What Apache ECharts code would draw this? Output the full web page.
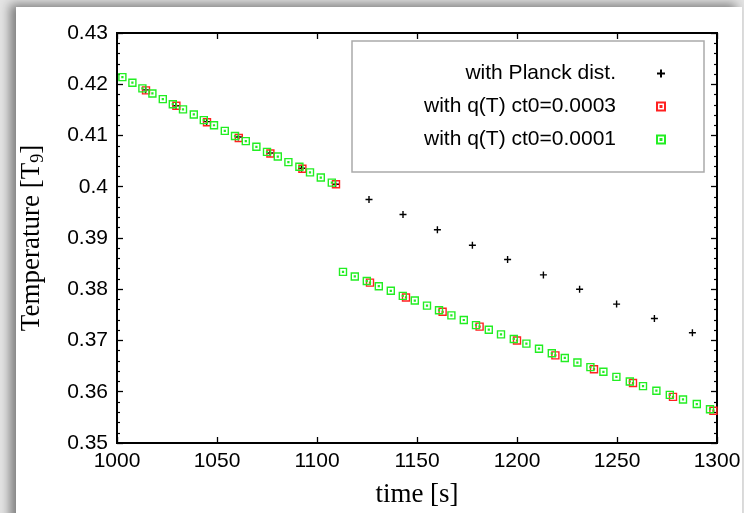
<!DOCTYPE html>
<html>
<head>
<meta charset="utf-8">
<script src="https://cdn.jsdelivr.net/npm/echarts@6/dist/echarts.min.js"></script>
<style>
	html, body {
		margin: 0;
		width: 744px;
		height: 513px;
		overflow: hidden;
		background: #e4e4e4;
	}
	.paper {
		position: absolute;
		left: 16px;
		top: 7px;
		width: 726px;
		height: 520px;
		background: #fff;
		box-shadow: -6px -3px 10px rgba(0, 0, 0, 0.45);
	}
	#chart {
		position: absolute;
		left: 0;
		top: 0;
		width: 744px;
		height: 513px;
	}
</style>
</head>
<body>
<div class="paper"></div>
<div id="chart"></div>
<script>
	// data
	var planckTime = [1014.3, 1029.5, 1044.8, 1060.7, 1076.5, 1092.3, 1109.3, 1126.0, 1143.0, 1160.2, 1177.7, 1195.3, 1213.2, 1231.3, 1249.8, 1268.7, 1287.7];
	var planckTemp = [0.4189, 0.4158, 0.4127, 0.4097, 0.4066, 0.4036, 0.4005, 0.3975, 0.3946, 0.3916, 0.3886, 0.3858, 0.3828, 0.3800, 0.3771, 0.3743, 0.3715];

	var q3Time = [1014.5, 1029.7, 1045.0, 1060.9, 1076.7, 1092.7, 1109.5, 1126.5, 1144.5, 1162.8, 1181.3, 1200.0, 1219.2, 1238.5, 1258.0, 1278.0, 1298.2];
	var q3Temp = [0.4188, 0.4158, 0.4126, 0.4095, 0.4065, 0.4035, 0.4005, 0.3813, 0.3784, 0.3756, 0.3727, 0.3700, 0.3671, 0.3644, 0.3617, 0.3590, 0.3563];

	var q1Time = [1002.7, 1007.7, 1012.7, 1017.7, 1022.9, 1027.9, 1033.0, 1038.4, 1043.4, 1048.5, 1053.9, 1059.0, 1064.4, 1069.7, 1075.0, 1080.4, 1085.7, 1091.2, 1096.5, 1101.9, 1107.4,
		1113.0, 1118.9, 1124.9, 1130.9, 1136.9, 1142.9, 1148.9, 1155.0, 1161.0, 1167.2, 1173.4, 1179.5, 1185.9, 1192.0, 1198.4, 1204.7, 1211.0, 1217.4, 1223.9, 1230.2, 1236.7, 1243.2, 1249.7, 1256.4, 1263.0, 1269.7, 1276.4, 1283.0, 1289.9, 1296.5];
	var q1Temp = [0.4214, 0.4203, 0.4192, 0.4182, 0.4171, 0.4161, 0.4151, 0.4141, 0.4130, 0.4120, 0.4109, 0.4099, 0.4089, 0.4078, 0.4068, 0.4059, 0.4048, 0.4039, 0.4028, 0.4018, 0.4008,
		0.3834, 0.3825, 0.3816, 0.3806, 0.3797, 0.3787, 0.3778, 0.3768, 0.3759, 0.3749, 0.3740, 0.3730, 0.3721, 0.3712, 0.3703, 0.3694, 0.3684, 0.3675, 0.3666, 0.3657, 0.3648, 0.3639, 0.3629, 0.3620, 0.3611, 0.3602, 0.3594, 0.3585, 0.3576, 0.3566];

	var seriesNames = ['with Planck dist.', 'with q(T) ct0=0.0003', 'with q(T) ct0=0.0001'];

	function pairs(xs, ys) {
		var out = [];
		for (var i = 0; i < xs.length; i++) {
			out.push([xs[i], ys[i]]);
		}
		return out;
	}

	var sans = 'Liberation Sans';
	var serif = 'Liberation Serif';
	var plus = 'path://M5,0V10M0,5H10';
	var dotSquare = 'path://M0,0H10V10H0Z M4.4,4.4H5.6V5.6H4.4Z';

	var frameAxis = {
		axisLine: { show: true, lineStyle: { color: '#000', width: 2 } },
		axisTick: { show: true, inside: true, length: 6, lineStyle: { color: '#000', width: 1.3 } },
		splitLine: { show: false }
	};

	var option = {
		animation: false,
		textStyle: { fontFamily: sans, color: '#000' },
		grid: {
			left: 117,
			right: 27,
			top: 33,
			bottom: 70,
			show: true,
			borderColor: '#000',
			borderWidth: 2
		},
		legend: {
			orient: 'vertical',
			align: 'right',
			left: 352,
			top: 41,
			itemWidth: 8,
			itemHeight: 8,
			itemGap: 12,
			padding: [22, 38, 22, 8],
			borderColor: '#aaa',
			borderWidth: 1.5,
			backgroundColor: '#fff',
			data: seriesNames,
			formatter: function(name) {
				return '{a|' + name + '}';
			},
			textStyle: {
				rich: {
					a: {
						fontFamily: sans,
						fontSize: 21,
						lineHeight: 21,
						color: '#000',
						width: 256,
						align: 'right',
						padding: [0, 36, 0, 0]
					}
				}
			}
		},
		xAxis: [Object.assign({}, frameAxis, {
			type: 'value',
			min: 1000,
			max: 1300,
			interval: 50,
			position: 'bottom',
			axisLabel: {
				fontFamily: sans, fontSize: 21, color: '#000', margin: 8,
				formatter: function(v) { return String(v); }
			},
			name: 'time [s]',
			nameLocation: 'middle',
			nameGap: 38,
			nameTextStyle: { fontFamily: serif, fontSize: 27, color: '#000' }
		}), Object.assign({}, frameAxis, {
			type: 'value',
			min: 1000,
			max: 1300,
			interval: 50,
			position: 'top',
			axisLabel: { show: false }
		})],
		yAxis: [Object.assign({}, frameAxis, {
			type: 'value',
			min: 0.35,
			max: 0.43,
			interval: 0.01,
			position: 'left',
			minorTick: { show: true, splitNumber: 5, length: 3, lineStyle: { color: '#000', width: 1.2 } },
			axisLabel: { fontFamily: sans, fontSize: 21, color: '#000', margin: 9 },
			name: '{a|Temperature [T}{s|9}{a|]}',
			nameLocation: 'middle',
			nameRotate: 90,
			nameGap: 70,
			nameTextStyle: {
				rich: {
					a: { fontFamily: serif, fontSize: 27, color: '#000' },
					s: { fontFamily: serif, fontSize: 18, color: '#000', padding: [12, 0, 0, 0] }
				}
			}
		}), Object.assign({}, frameAxis, {
			type: 'value',
			min: 0.35,
			max: 0.43,
			interval: 0.01,
			position: 'right',
			minorTick: { show: true, splitNumber: 5, length: 3, lineStyle: { color: '#000', width: 1.2 } },
			axisLabel: { show: false }
		})],
		series: [{
			name: seriesNames[0],
			type: 'scatter',
			symbol: plus,
			symbolSize: 7,
			itemStyle: { color: 'rgba(0,0,0,0)', borderColor: '#000', borderWidth: 1.4, opacity: 1 },
			data: pairs(planckTime, planckTemp)
		}, {
			name: seriesNames[1],
			type: 'scatter',
			symbol: dotSquare,
			symbolSize: 7,
			itemStyle: { color: 'rgba(0,0,0,0)', borderColor: '#ff2020', borderWidth: 1.4, opacity: 1 },
			data: pairs(q3Time, q3Temp)
		}, {
			name: seriesNames[2],
			type: 'scatter',
			symbol: dotSquare,
			symbolSize: 7,
			itemStyle: { color: 'rgba(0,0,0,0)', borderColor: '#22ee22', borderWidth: 1.4, opacity: 1 },
			data: pairs(q1Time, q1Temp)
		}]
	};

	var chart = echarts.init(document.getElementById('chart'));
	chart.setOption(option);
</script>
</body>
</html>
